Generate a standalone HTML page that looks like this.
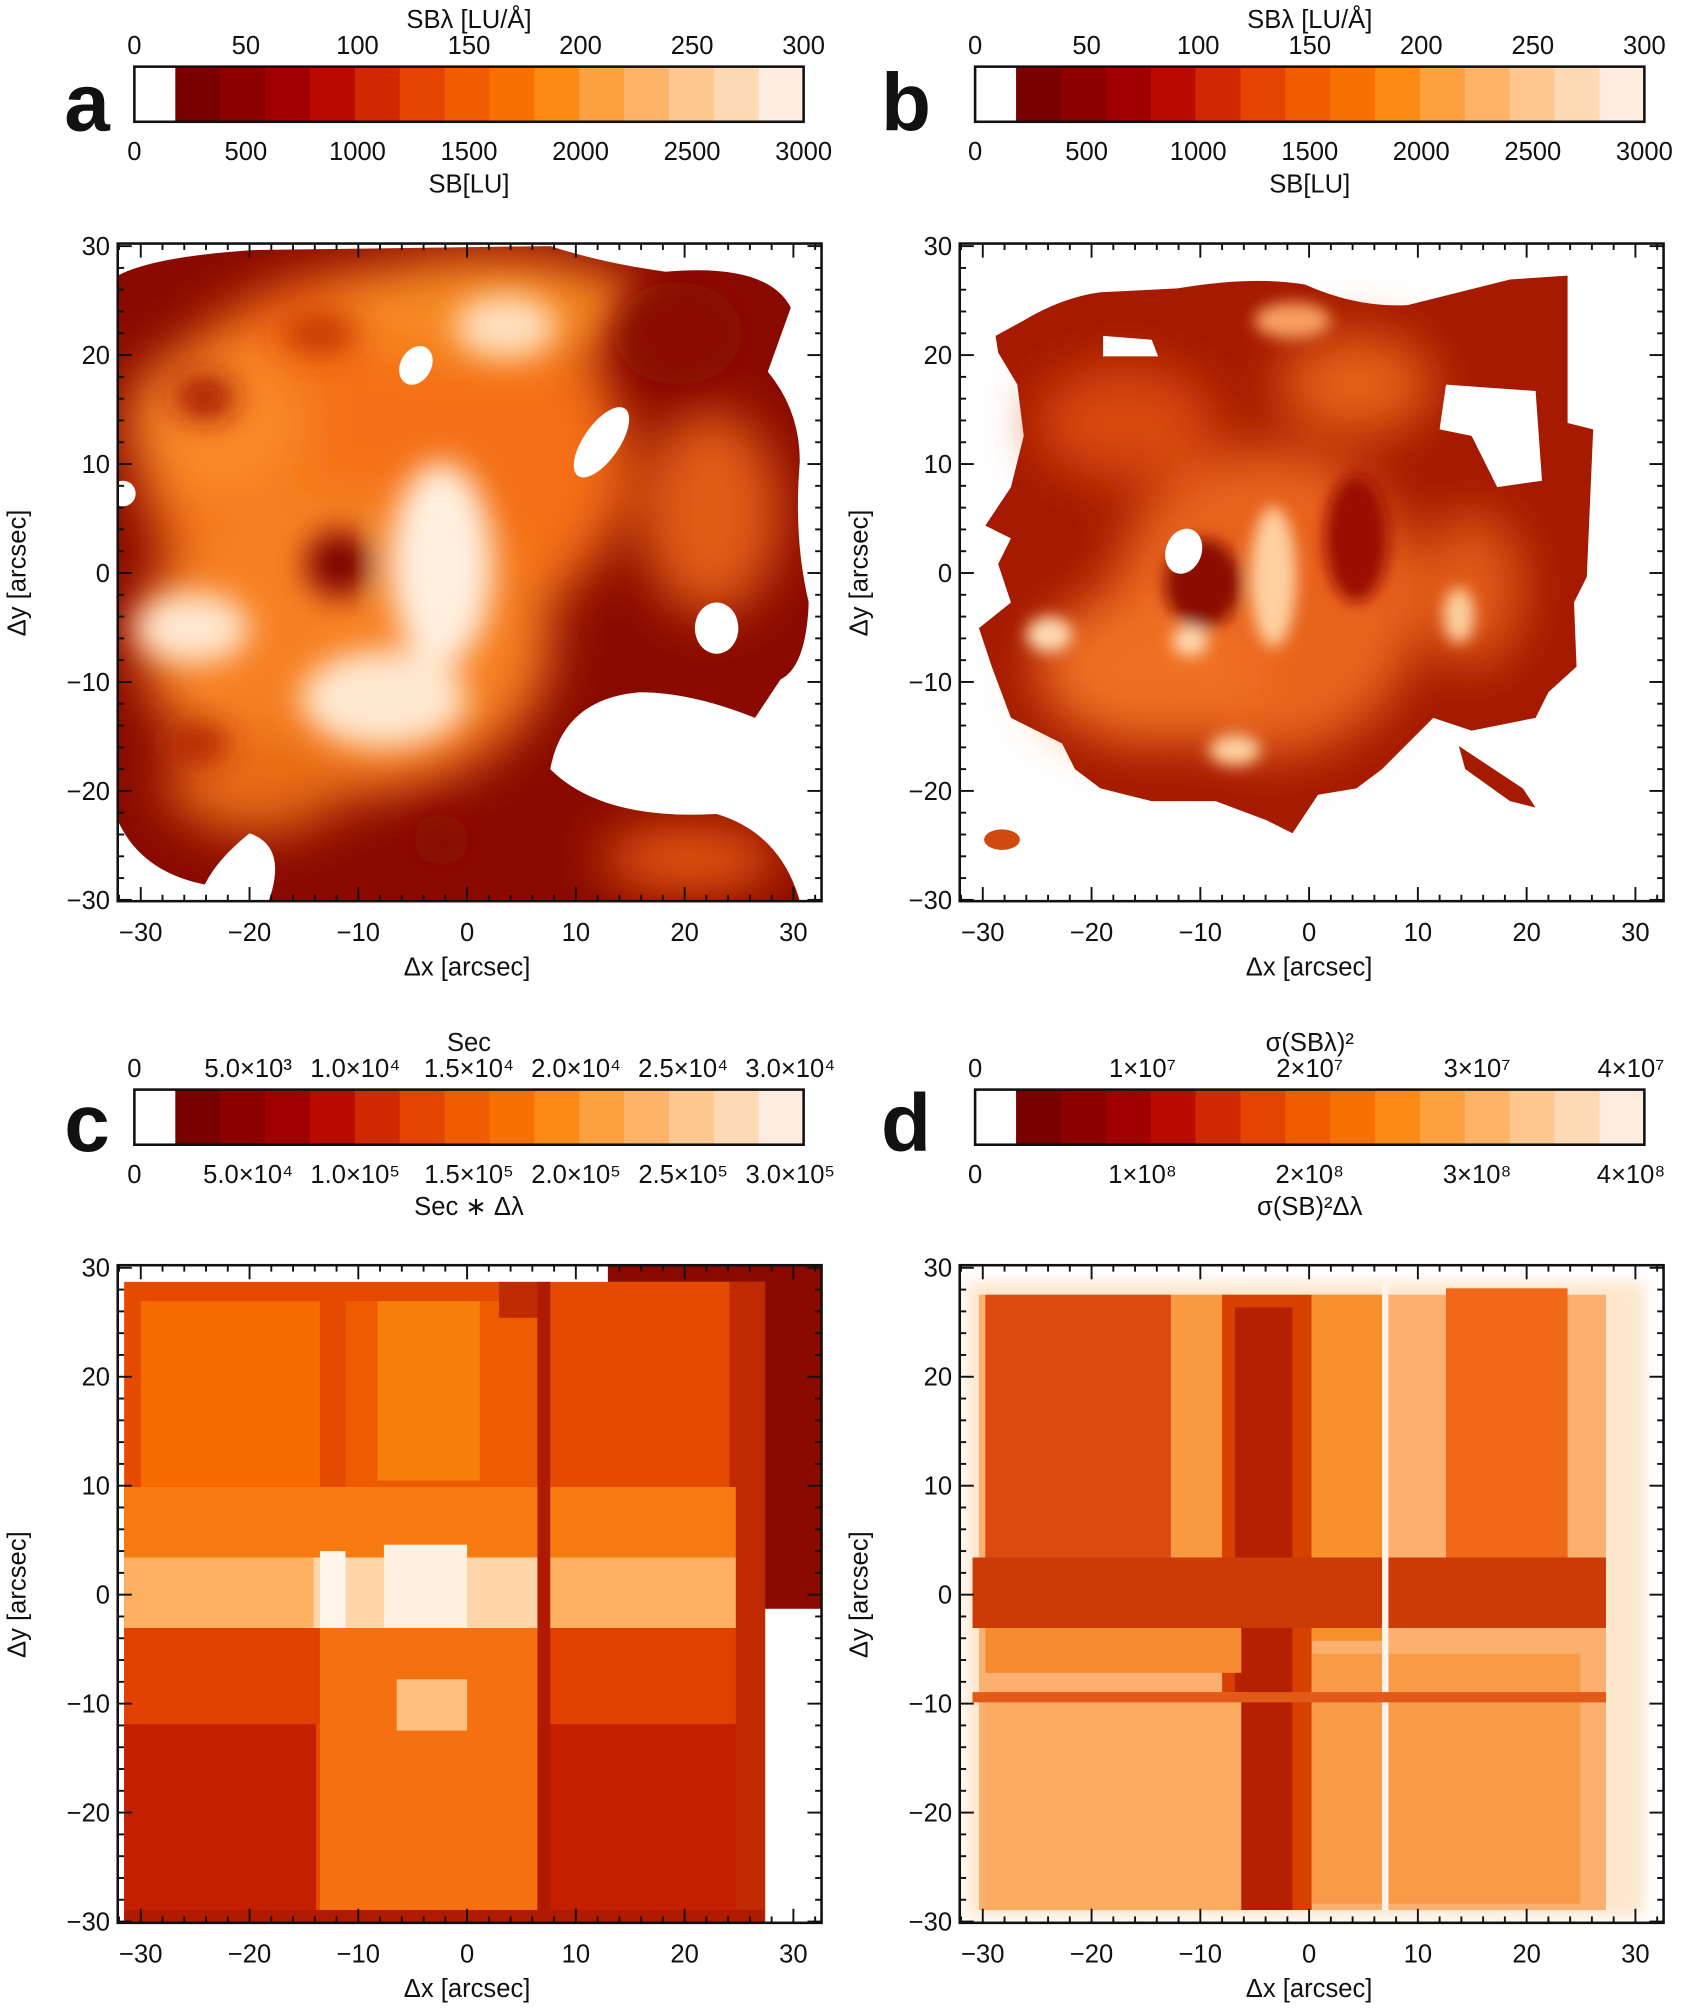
<!DOCTYPE html>
<html><head><meta charset="utf-8">
<style>
html,body{margin:0;padding:0;background:#fff;}
svg{display:block;}
text{font-family:"Liberation Sans","DejaVu Sans",sans-serif;fill:#111;}
</style></head>
<body>
<svg id="s" width="1693" height="2010" viewBox="0 0 1323 1568" preserveAspectRatio="none" xmlns="http://www.w3.org/2000/svg">
<defs>
<filter id="b6" x="-20%" y="-20%" width="140%" height="140%"><feGaussianBlur stdDeviation="6"/></filter>
<filter id="b12" x="-30%" y="-30%" width="160%" height="160%"><feGaussianBlur stdDeviation="12"/></filter>
<filter id="b20" x="-40%" y="-40%" width="180%" height="180%"><feGaussianBlur stdDeviation="20"/></filter>
<filter id="b3"><feGaussianBlur stdDeviation="2.5"/></filter>
<clipPath id="ca"><rect x="92" y="190" width="550" height="513"/></clipPath>
<clipPath id="cb"><rect x="750" y="190" width="550" height="513"/></clipPath>
<clipPath id="cc"><rect x="92" y="987" width="550" height="513"/></clipPath>
<clipPath id="cd"><rect x="750" y="987" width="550" height="513"/></clipPath>
<clipPath id="sa"><path d="M92,215 Q120,200 200,195 L430,192 Q470,205 520,212 Q600,205 618,240 L600,290 Q625,320 625,360 Q620,420 632,470 Q630,520 610,530 L590,560 Q540,540 500,540 Q440,545 430,600 Q470,640 560,635 Q610,650 625,703 L210,703 Q225,660 195,650 Q170,670 160,690 Q110,680 92,640 Z"/></clipPath>
</defs>

<!-- Panel a image -->
<g clip-path="url(#ca)">
 <g clip-path="url(#sa)">
 <rect x="92" y="190" width="550" height="513" fill="#8a0a00"/>
 <g filter="url(#b20)">
  <ellipse cx="300" cy="360" rx="190" ry="150" fill="#f47018"/>
  <ellipse cx="270" cy="500" rx="160" ry="120" fill="#f78020"/>
  <ellipse cx="555" cy="400" rx="55" ry="80" fill="#e05c18"/>
  <ellipse cx="380" cy="240" rx="120" ry="40" fill="#f88a20"/>
  <ellipse cx="170" cy="330" rx="70" ry="60" fill="#f98a28"/>
  <ellipse cx="540" cy="670" rx="70" ry="25" fill="#e85a10"/>
  <ellipse cx="200" cy="610" rx="70" ry="40" fill="#e86a18"/>
 </g>
 <g filter="url(#b12)">
  <ellipse cx="345" cy="440" rx="40" ry="80" fill="#fff0e0"/>
  <ellipse cx="300" cy="545" rx="65" ry="38" fill="#ffe8d0"/>
  <ellipse cx="150" cy="490" rx="45" ry="28" fill="#ffe8d0"/>
  <ellipse cx="395" cy="255" rx="40" ry="25" fill="#ffe0c0"/>
  <ellipse cx="265" cy="440" rx="26" ry="26" fill="#7a0000"/>
  <ellipse cx="160" cy="310" rx="25" ry="18" fill="#a51500"/>
  <ellipse cx="345" cy="655" rx="22" ry="20" fill="#8a0a00"/>
  <ellipse cx="155" cy="580" rx="25" ry="15" fill="#b02000"/>
  <ellipse cx="250" cy="260" rx="30" ry="15" fill="#c03000"/>
  <ellipse cx="530" cy="260" rx="50" ry="40" fill="#8a0a00"/>
 </g>
 </g>
 <ellipse cx="325" cy="285" rx="12" ry="16" fill="#fff" transform="rotate(30 325 285)"/>
 <ellipse cx="470" cy="345" rx="14" ry="32" fill="#fff" transform="rotate(35 470 345)"/>
 <ellipse cx="560" cy="490" rx="17" ry="20" fill="#fff"/>
 <ellipse cx="96" cy="385" rx="10" ry="10" fill="#fff"/>
</g>

<!-- Panel b image -->
<g clip-path="url(#cb)">
 <path d="M778,262 L800,250 Q830,232 860,228 L920,225 Q980,215 1020,222 Q1060,240 1100,238 L1180,218 L1225,215 L1225,330 L1245,335 L1240,450 L1230,470 L1232,520 L1210,540 L1200,560 L1150,570 L1120,560 L1080,600 L1060,615 L1030,620 L1010,650 L990,640 L950,625 L900,625 L860,615 L840,600 L830,580 L790,560 L775,520 L765,490 L790,470 L780,440 L790,420 L770,410 L790,380 L800,340 L795,300 L780,275 Z" fill="#a51a00"/>
 <g filter="url(#b20)">
  <ellipse cx="990" cy="470" rx="120" ry="120" fill="#e8641a"/>
  <ellipse cx="900" cy="520" rx="90" ry="60" fill="#ef7020"/>
  <ellipse cx="1060" cy="300" rx="60" ry="40" fill="#e56018"/>
  <ellipse cx="880" cy="330" rx="70" ry="45" fill="#d84a10"/>
  <ellipse cx="1150" cy="460" rx="40" ry="60" fill="#e05a18"/>
 </g>
 <g filter="url(#b6)">
  <ellipse cx="995" cy="450" rx="18" ry="55" fill="#ffd0a0"/>
  <ellipse cx="820" cy="495" rx="18" ry="14" fill="#ffd8b0"/>
  <ellipse cx="1140" cy="480" rx="12" ry="22" fill="#ffd0a0"/>
  <ellipse cx="965" cy="585" rx="20" ry="12" fill="#ffd0a0"/>
  <ellipse cx="1010" cy="250" rx="30" ry="14" fill="#f8a060"/>
  <ellipse cx="930" cy="500" rx="14" ry="12" fill="#ffd8b0"/>
  <ellipse cx="940" cy="455" rx="30" ry="35" fill="#8a0a00"/>
  <ellipse cx="1060" cy="420" rx="25" ry="50" fill="#9a1000"/>
 </g>
 <path d="M1130,300 L1200,305 L1205,375 L1170,380 L1150,340 L1125,335 Z" fill="#fff"/>
 <ellipse cx="925" cy="430" rx="14" ry="18" fill="#fff" transform="rotate(20 925 430)"/>
 <path d="M862,262 L900,265 L905,278 L862,278 Z" fill="#fff"/>
 <path d="M1140,582 L1190,615 L1200,630 L1180,625 L1145,600 Z" fill="#a51a00"/>
 <ellipse cx="783" cy="655" rx="14" ry="8" fill="#d04a10"/>
</g>

<!-- Panel c image -->
<g clip-path="url(#cc)">
 <rect x="92" y="987" width="550" height="513" fill="#fff"/>
 <rect x="97" y="1000" width="500" height="500" fill="#e64a00"/>
 <rect x="475" y="987" width="167" height="13" fill="#8a0a00"/>
 <rect x="597" y="987" width="45" height="268" fill="#8a0a00"/>
 <rect x="570" y="1000" width="28" height="500" fill="#c02a00"/>
 <rect x="110" y="1015" width="140" height="145" fill="#f66a00"/>
 <rect x="270" y="1015" width="160" height="150" fill="#ee5a00"/>
 <rect x="295" y="1015" width="80" height="140" fill="#f77e08"/>
 <rect x="390" y="1000" width="40" height="28" fill="#c02a00"/>
 <rect x="97" y="1160" width="478" height="55" fill="#f77a10"/>
 <rect x="97" y="1215" width="478" height="55" fill="#fdb060"/>
 <rect x="245" y="1215" width="175" height="65" fill="#fed4a8"/>
 <rect x="300" y="1205" width="65" height="85" fill="#fff0e0"/>
 <rect x="250" y="1210" width="20" height="70" fill="#fff4ea"/>
 <rect x="97" y="1270" width="478" height="75" fill="#e04000"/>
 <rect x="250" y="1270" width="170" height="230" fill="#f57010"/>
 <rect x="310" y="1310" width="55" height="40" fill="#fdc080"/>
 <rect x="97" y="1345" width="150" height="150" fill="#c42000"/>
 <rect x="420" y="1345" width="155" height="145" fill="#c42000"/>
 <rect x="97" y="1490" width="500" height="10" fill="#b01a00"/>
 <rect x="420" y="1000" width="10" height="500" fill="#b01a00"/>
</g>

<!-- Panel d image -->
<g clip-path="url(#cd)">
 <rect x="750" y="987" width="550" height="513" fill="#fff"/>
 <rect x="755" y="1000" width="530" height="495" fill="#fde6cc" filter="url(#b6)"/>
 <rect x="765" y="1010" width="490" height="480" fill="#fbb070"/>
 <rect x="770" y="1010" width="145" height="260" fill="#dc4a10"/>
 <rect x="915" y="1010" width="40" height="260" fill="#fa9a40"/>
 <rect x="955" y="1010" width="70" height="480" fill="#d84000"/>
 <rect x="965" y="1020" width="45" height="470" fill="#b42000"/>
 <rect x="1025" y="1010" width="60" height="270" fill="#f7902a"/>
 <rect x="1130" y="1005" width="95" height="210" fill="#f06818"/>
 <rect x="760" y="1215" width="495" height="55" fill="#cc3a08"/>
 <rect x="770" y="1270" width="200" height="35" fill="#f58a30"/>
 <rect x="770" y="1320" width="200" height="170" fill="#fcaa60"/>
 <rect x="1025" y="1290" width="210" height="195" fill="#f99a48"/>
 <rect x="1080" y="1000" width="5" height="490" fill="#fff4ea"/>
 <rect x="760" y="1320" width="495" height="8" fill="#e25a18"/>
</g>

<g id="axes"></g>
</svg>
<script>
const g=document.getElementById('axes');
const NS='http://www.w3.org/2000/svg';
function el(t,a,txt){const e=document.createElementNS(NS,t);for(const k in a)e.setAttribute(k,a[k]);if(txt!==undefined)e.textContent=txt;g.appendChild(e);return e;}
const cols=['#5a0000','#7a0000','#8c0000','#a00000','#bb0a00','#d02800','#e44400','#f25c00','#f87000','#fc8a14','#fda040','#fdb468','#fec890','#fedab4','#ffece0'];
function cbar(x0,y0,top,topTitle,bot,botTitle){
  const w=523,h=43;
  const sw=(w-32)/14;
  el('rect',{x:x0,y:y0,width:32,height:h,fill:'#fff'});
  for(let i=0;i<14;i++)el('rect',{x:x0+32+i*sw,y:y0,width:sw+0.6,height:h,fill:cols[i+1]});
  el('rect',{x:x0,y:y0,width:w,height:h,fill:'none',stroke:'#111','stroke-width':2});
  top.forEach(t=>el('text',{x:x0+t[0]*w,y:y0-10,'font-size':20,'text-anchor':'middle'},t[1]));
  bot.forEach(t=>el('text',{x:x0+t[0]*w,y:y0+h+30,'font-size':20,'text-anchor':'middle'},t[1]));
  el('text',{x:x0+0.5*w,y:y0-30,'font-size':20,'text-anchor':'middle'},topTitle);
  el('text',{x:x0+0.5*w,y:y0+h+55,'font-size':20,'text-anchor':'middle'},botTitle);
}
function axes(fx,fy,letter,lx,ly){
  const W=550,H=513,cx=fx+273,cy=fy+257,s=8.5;
  el('rect',{x:fx,y:fy,width:W,height:H,fill:'none',stroke:'#111','stroke-width':2});
  for(let v=-32;v<=32;v+=2){
    const big=v%10===0,L=big?11:5;
    const x=cx+v*s,y=cy-v*s;
    if(x>fx&&x<fx+W){el('line',{x1:x,y1:fy+H,x2:x,y2:fy+H-L,stroke:'#111','stroke-width':1.5});el('line',{x1:x,y1:fy,x2:x,y2:fy+L,stroke:'#111','stroke-width':1.5});}
    if(y>fy&&y<fy+H){el('line',{x1:fx,y1:y,x2:fx+L,y2:y,stroke:'#111','stroke-width':1.5});el('line',{x1:fx+W,y1:y,x2:fx+W-L,y2:y,stroke:'#111','stroke-width':1.5});}
  }
  for(let v=-30;v<=30;v+=10){
    const lab=(v<0?'\u2212':'')+Math.abs(v);
    el('text',{x:cx+v*s,y:fy+H+31,'font-size':20,'text-anchor':'middle'},lab);
    el('text',{x:fx-6,y:cy-v*s+7,'font-size':20,'text-anchor':'end'},lab);
  }
  el('text',{x:cx,y:fy+H+58,'font-size':20,'text-anchor':'middle'},'\u0394x [arcsec]');
  el('text',{x:fx-72,y:cy,'font-size':20,'text-anchor':'middle',transform:`rotate(-90 ${fx-72} ${cy})`},'\u0394y [arcsec]');
  el('text',{x:lx,y:ly,'font-size':64,'font-weight':'bold','text-anchor':'middle'},letter);
}
const n=[[0,'0'],[1/6,'50'],[2/6,'100'],[3/6,'150'],[4/6,'200'],[5/6,'250'],[1,'300']];
const m=[[0,'0'],[1/6,'500'],[2/6,'1000'],[3/6,'1500'],[4/6,'2000'],[5/6,'2500'],[1,'3000']];
cbar(105,52,n,'SB\u03bb [LU/\u00c5]',m,'SB[LU]');
cbar(762,52,n,'SB\u03bb [LU/\u00c5]',m,'SB[LU]');
const c1=[[0,'0'],[0.17,'5.0\u00d710\u00b3'],[0.33,'1.0\u00d710\u2074'],[0.5,'1.5\u00d710\u2074'],[0.66,'2.0\u00d710\u2074'],[0.82,'2.5\u00d710\u2074'],[0.98,'3.0\u00d710\u2074']];
const c2=[[0,'0'],[0.17,'5.0\u00d710\u2074'],[0.33,'1.0\u00d710\u2075'],[0.5,'1.5\u00d710\u2075'],[0.66,'2.0\u00d710\u2075'],[0.82,'2.5\u00d710\u2075'],[0.98,'3.0\u00d710\u2075']];
cbar(105,850,c1,'Sec',c2,'Sec \u2217 \u0394\u03bb');
const d1=[[0,'0'],[0.25,'1\u00d710\u2077'],[0.5,'2\u00d710\u2077'],[0.75,'3\u00d710\u2077'],[0.98,'4\u00d710\u2077']];
const d2=[[0,'0'],[0.25,'1\u00d710\u2078'],[0.5,'2\u00d710\u2078'],[0.75,'3\u00d710\u2078'],[0.98,'4\u00d710\u2078']];
cbar(762,850,d1,'\u03c3(SB\u03bb)\u00b2',d2,'\u03c3(SB)\u00b2\u0394\u03bb');
axes(92,190,'a',68,102);
axes(750,190,'b',708,102);
axes(92,987,'c',68,898);
axes(750,987,'d',708,898);
</script>
</body></html>
